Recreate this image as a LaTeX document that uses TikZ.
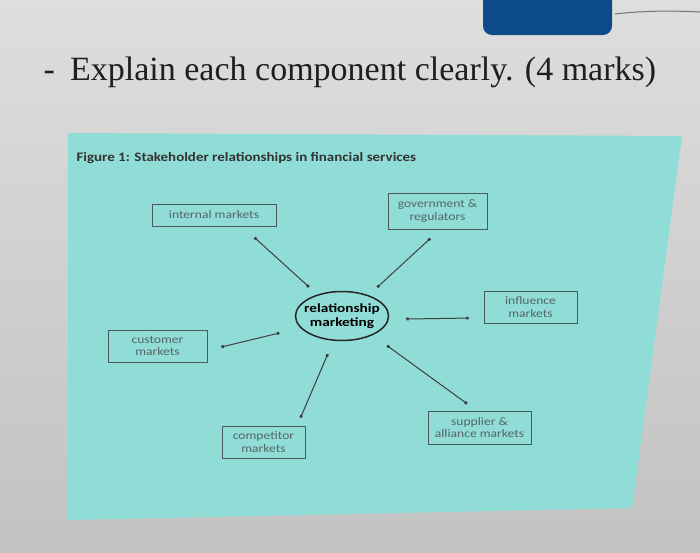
\documentclass[tikz,border=0pt]{standalone}
\usepackage{fontspec}
\setmainfont{Carlito}
\newfontfamily\titlefont{Liberation Serif}
\newfontfamily\widefont[FakeStretch=1.18]{Carlito}
\newfontfamily\hubfont[FakeStretch=1.22]{Carlito}
\newfontfamily\capfont[FakeStretch=1.15]{Carlito}
\usetikzlibrary{arrows.meta,shapes.geometric}
\definecolor{panelteal}{HTML}{90DCD6}
\definecolor{boxline}{HTML}{4A5A5A}
\definecolor{boxtext}{HTML}{566666}
\definecolor{btnblue}{HTML}{0D4A8A}
\tikzset{
  market/.style={draw=boxline,line width=0.8pt,rectangle,align=center,
    text=boxtext,font=\widefont\fontsize{11.5}{12.5}\selectfont,inner sep=1pt},
  hub/.style={draw=black!85,line width=1.5pt,ellipse,align=center,inner xsep=-16pt,inner ysep=-8pt,
    font=\hubfont\fontsize{12.5}{14.5}\bfseries,minimum width=93pt,minimum height=49pt},
  link/.style={draw=black!75,line width=1pt,{Square[length=2.6pt,width=2.6pt]}-{Square[length=2.6pt,width=2.6pt]}}
}
\begin{document}
\begin{tikzpicture}[x=1pt,y=-1pt]
\useasboundingbox (0,0) rectangle (700,552);
\shade[top color=black!13,bottom color=black!24] (0,0) rectangle (700,552);
\fill[btnblue,rounded corners=9pt] (483,-12) rectangle (612,35);
\draw[black!55,line width=1pt] (615,14) .. controls (650,10) and (680,11) .. (700,12);
\node[anchor=west,text=black!88,font=\titlefont\fontsize{34}{36}\selectfont] (ask) at (40,72) {-\hspace{0.45em}Explain each component clearly. (4 marks)};
\fill[panelteal] (68,133) -- (682,136) -- (632,508) -- (68,520) -- cycle;
\node[anchor=west,text=black!80,font=\capfont\fontsize{13}{14}\bfseries] (cap) at (73,158) {Figure 1: Stakeholder relationships in financial services};

\node[hub] (rm) at (342,316) {relationship\\marketing};
\node[market,minimum width=124pt,minimum height=22pt] (int) at (214,215) {internal markets};
\node[market,minimum width=99pt,minimum height=36pt] (gov) at (437.5,211) {government \&\\regulators};
\node[market,minimum width=93pt,minimum height=32pt] (inf) at (530.5,307) {influence\\markets};
\node[market,minimum width=99pt,minimum height=32pt] (cus) at (157.5,346) {customer\\markets};
\node[market,minimum width=83pt,minimum height=32pt] (com) at (263.5,442) {competitor\\markets};
\node[market,minimum width=103pt,minimum height=33pt] (sup) at (479.5,427.5) {supplier \&\\alliance markets};

\foreach \a/\b/\s/\e in {int.-22.5/rm.139/16.6/11.3, gov.-82/rm.38.5/13.5/11.7,
  rm.-4/inf.-167/17.4/15, cus.-5/rm.-164/14.4/21.6,
  com.26/rm.-109/8.7/14.6, rm.-32/sup.100/17.8/11.8}
  \draw[link,shorten <=\s pt,shorten >=\e pt] (\a) -- (\b);
\end{tikzpicture}
\end{document}
